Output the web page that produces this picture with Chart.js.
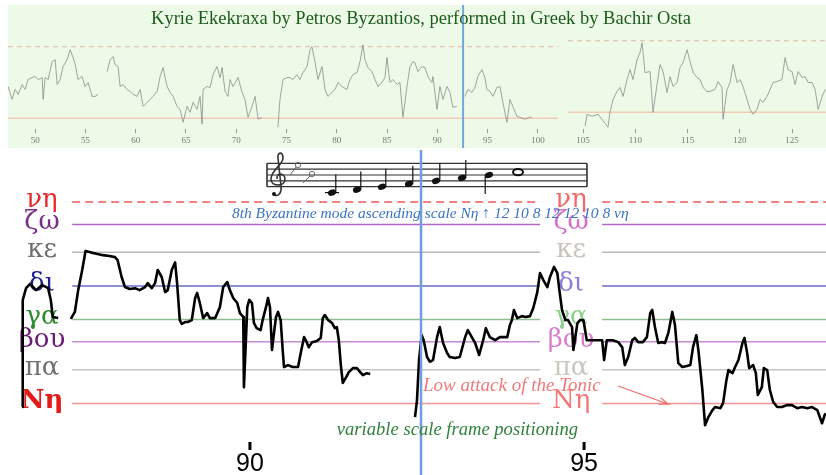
<!DOCTYPE html>
<html>
<head>
<meta charset="utf-8">
<script src="https://cdn.jsdelivr.net/npm/chart.js@4.4.1/dist/chart.umd.min.js"></script>
<style>
body { margin: 0; background: #fff; }
#wrap { position: relative; width: 826px; height: 475px; overflow: hidden; }
#topBg { position: absolute; left: 8px; top: 5px; width: 818px; height: 143px; background: #eefae8; }
#title { position: absolute; left: 8px; top: 8px; width: 826px; text-align: center;
         font: 18.5px "Liberation Serif", serif; color: #1b5c1b; }
canvas { position: absolute; }
</style>
</head>
<body>
<div id="wrap">
  <div id="topBg"></div>
  <canvas id="topLeft" width="550" height="143" style="left:8px;top:5px"></canvas>
  <canvas id="topRight" width="258" height="143" style="left:568px;top:5px"></canvas>
  <div id="title">Kyrie Ekekraxa by Petros Byzantios, performed in Greek by Bachir Osta</div>
  <canvas id="mainChart" width="826" height="325" style="left:0;top:150px"></canvas>
</div>
<script>
// Treptele modului 8 (moria de la Nη)
const levelNames = ['Nη', 'πα', 'βου', 'γα', 'δι', 'κε', 'ζω', 'νη'];
const levelMoria = [0, 12, 22, 30, 42, 54, 64, 72];
const levelLineColors = ['#f39393', '#c4c4c4', '#c78ad4', '#8cbf8c', '#6c6cc8', '#b8b8b8', '#b565c5', '#ec5a5a'];
const leftLabelColors = ['#e31b1b', '#707070', '#6b1b7b', '#2b8a2b', '#1f1f8f', '#6e6e6e', '#7b2d8b', '#e52b2b'];
const rightLabelColors = ['#f47777', '#cac8bd', '#d77fcf', '#8fd08f', '#8f7fd6', '#c9c2b9', '#d46fc8', '#f26a6a'];

// Curba de inaltime (detaliu), timp in secunde / moria
const mainTime = [
  86.59, 86.60, 86.65, 86.71, 86.80, 86.89, 86.98, 87.02, 87.05, 87.13, 87.20,
  87.32, 87.38, 87.43, 87.49, 87.54, 87.60, 87.65, 87.72, 87.80, 87.90, 87.98, 88.02, 88.08, 88.13,
  88.20, 88.28, 88.35, 88.43, 88.47, 88.53, 88.58, 88.62, 88.68, 88.73, 88.77, 88.83, 88.88, 88.91,
  88.95, 88.98, 89.03, 89.07, 89.13, 89.18, 89.21, 89.25, 89.30, 89.36, 89.40, 89.48, 89.55, 89.60,
  89.66, 89.70, 89.75, 89.81, 89.85, 89.90, 89.91, 89.94, 89.96, 89.99, 90.03, 90.06, 90.10, 90.16,
  90.19, 90.24, 90.27, 90.30, 90.33, 90.36, 90.39, 90.42, 90.46, 90.49, 90.51, 90.57, 90.64, 90.72,
  90.76, 90.81, 90.85, 90.88, 90.93, 91.00, 91.06, 91.09, 91.12, 91.17, 91.23, 91.27, 91.30, 91.33,
  91.36, 91.39, 91.44, 91.48, 91.54, 91.60, 91.65, 91.69, 91.75, 91.80, 92.10,
  92.47, 92.50, 92.53, 92.57, 92.60, 92.65, 92.69, 92.74, 92.80, 92.84, 92.89, 92.95, 92.99, 93.07,
  93.14, 93.22, 93.26, 93.32, 93.37, 93.43, 93.49, 93.53, 93.59, 93.67, 93.74, 93.85, 93.89, 93.92,
  93.95, 94.00, 94.07, 94.13, 94.19, 94.24, 94.30, 94.34, 94.39, 94.45, 94.49, 94.55, 94.60, 94.63,
  94.67, 94.72, 94.76, 94.82, 94.84, 94.90, 94.94, 94.99, 95.04, 95.12, 95.19, 95.27, 95.30, 95.34,
  95.43, 95.51, 95.57, 95.61, 95.66, 95.72, 95.76, 95.81, 95.88, 95.94, 95.99, 96.02, 96.06, 96.11,
  96.17, 96.21, 96.26, 96.32, 96.36, 96.41, 96.47, 96.54, 96.59, 96.63, 96.68, 96.71, 96.77, 96.81,
  96.86, 96.92, 96.96, 97.04, 97.08, 97.13, 97.16, 97.22, 97.26, 97.31, 97.37, 97.40, 97.44, 97.47,
  97.53, 97.57, 97.60, 97.66, 97.69, 97.74, 97.78, 97.83, 97.89, 97.96, 98.04, 98.11, 98.19, 98.26,
  98.34, 98.41, 98.49, 98.56, 98.61
];
const mainPitch = [
  -1.3, 36.9, 41.2, 42.7, 40.5, 42.3, 41.2, 37.0, 30.9, 30.5, null,
  30.2, 32.7, 40.5, 47.7, 54.5, 54.1, 53.8, 53.4, 53.0, 52.7, 52.3, 51.2, 45.2, 41.6,
  40.9, 41.2, 40.5, 41.6, 43.0, 41.2, 43.0, 47.7, 45.2, 39.8, 40.5, 47.7, 50.4, 43.0,
  29.8, 28.4, 29.1, 29.1, 29.8, 37.7, 39.5, 35.9, 30.5, 32.3, 30.5, 30.5, 34.4, 41.6,
  43.4, 40.5, 37.7, 35.9, 32.3, 30.9, 5.8, 22.6, 34.4, 37.0, 35.9, 28.7, 26.9, 26.2,
  29.8, 34.4, 37.7, 34.4, 19.1, 25.1, 30.9, 32.7, 29.8, 19.1, 13.0, 13.7, 13.0, 13.0,
  18.0, 23.7, 21.9, 20.1, 21.9, 22.3, 23.4, 30.5, 31.6, 29.8, 28.7, 26.9, 27.3, 22.6,
  13.7, 7.3, 9.4, 11.2, 12.6, 12.6, 11.2, 10.1, 10.8, 10.5, null,
  -4.9, 1.2, 15.5, 24.4, 22.6, 16.6, 14.9, 15.5, 23.7, 27.3, 21.6, 18.0, 16.6, 16.2,
  16.6, 23.7, 26.2, 23.7, 21.6, 17.3, 22.6, 26.9, 23.7, 22.6, 23.7, 23.7, 28.0, 29.8,
  33.4, 30.5, 31.2, 30.9, 31.2, 34.1, 39.8, 46.6, 44.1, 41.6, 45.2, 48.8, 46.6, 40.5,
  33.4, 29.8, 29.8, 27.3, 19.1, 28.7, 29.8, 29.8, 22.6, 22.6, 22.6, 22.6, 15.5, 22.6,
  22.6, 21.9, 20.1, 13.7, 16.6, 22.6, 23.4, 21.9, 21.9, 23.7, 32.3, 33.4, 27.3, 21.6,
  21.9, 21.6, 25.1, 32.7, 28.0, 14.4, 13.0, 13.4, 13.7, 20.1, 24.4, 19.1, 4.8, -7.8,
  -4.9, -2.4, -1.3, -1.7, 0.1, 8.3, 11.9, 10.8, 13.0, 15.5, 21.6, 23.4, 18.0, 12.6,
  13.7, 10.8, 3.0, 5.8, 12.6, 11.9, 4.8, 0.5, -1.3, -1.3, -0.6, -0.6, -1.7, -1.3,
  -1.7, -1.3, -2.4, -7.1, -3.5
];
const mainTicks = [90, 95];

// Curba completa (sus), doua cadre
const topLeftTime = [
  47.32, 47.71, 48.01, 48.31, 48.71, 49.01, 49.30, 49.70, 50.00, 50.30, 50.70, 50.80, 50.99, 51.29,
  51.69, 51.99, 52.19, 52.49, 52.78, 53.18, 53.48, 53.78, 53.98, 54.27, 54.67, 54.97, 55.27, 55.67,
  55.96, 56.26, 56.70, 57.16, 57.46, 57.75, 57.95, 58.25, 58.45, 58.75, 59.14, 59.44, 59.74, 60.14,
  60.44, 60.74, 61.13, 61.43, 61.73, 62.13, 62.43, 62.72, 63.12, 63.42, 63.72, 64.11, 64.41, 64.71,
  65.11, 65.41, 65.71, 66.10, 66.40, 66.60, 66.70, 67.10, 67.40, 67.69, 68.09, 68.39, 68.59, 68.89,
  69.18, 69.38, 69.68, 70.18, 70.58, 70.87, 71.17, 71.57, 71.87, 72.17, 72.56, 73.40, 74.15, 74.35,
  74.65, 75.05, 75.35, 75.65, 76.04, 76.34, 76.64, 77.04, 77.34, 77.53, 77.83, 78.13, 78.53, 78.83,
  79.12, 79.52, 79.82, 80.12, 80.52, 81.01, 81.31, 81.61, 82.01, 82.31, 82.60, 82.80, 83.10, 83.50,
  83.80, 84.09, 84.49, 84.79, 84.99, 85.29, 85.59, 85.98, 86.28, 86.58, 86.98, 87.28, 87.57, 87.77,
  88.07, 88.47, 88.77, 89.06, 89.46, 89.56, 89.96, 90.26, 90.56, 90.95, 91.25, 91.55, 91.95, 92.30,
  92.74, 93.04, 93.44, 93.74, 94.03, 94.43, 94.73, 94.93, 95.23, 95.53, 95.92, 96.22, 96.52, 96.92,
  97.22, 97.51, 97.91, 98.21, 98.71, 99.20, 99.40
];
const topLeftPitch = [
  32, 19, 29, 24, 34, 29, 39, 41, 42, 39, 41, 19, 41, 39,
  57, 59, 34, 39, 52, 59, 69, 61, 54, 39, 42, 32, 36, 22,
  22, 24, null, 47, 59, 62, 54, 52, 32, 34, 29, 27, 24, 22,
  29, 12, 16, 19, 22, 27, 42, 51, 32, 26, 22, 12, 9, -4,
  12, 6, 16, 9, 22, -6, 29, 32, 31, 44, 52, 41, 51, 27,
  22, 39, 32, 41, 26, 19, 1, 12, 22, -1, 1, null, -9, 19,
  39, 41, 41, 39, 44, 39, 46, 52, 69, 72, 57, 39, 52, 29,
  22, 26, 29, 36, 32, 29, 39, 44, 46, 57, 74, 59, 51, 47,
  39, 32, 36, 41, 61, 36, 39, 34, 36, 1, 32, 52, 57, 56,
  47, 52, 51, 42, 36, 42, 9, 32, 19, 32, 26, 11, 12, null,
  22, 29, 26, 31, 42, 49, 41, 29, 27, 22, 31, 32, 16, -4,
  19, 12, 2, 1, -1, 1, 1
];
const topRightTime = [
  105.19, 105.38, 105.86, 106.44, 107.39, 107.58, 107.87, 108.25, 108.54, 108.83, 109.21, 109.50,
  109.78, 110.17, 110.45, 110.65, 110.93, 111.41, 111.70, 112.08, 112.37, 112.66, 113.04, 113.33,
  113.61, 114.00, 114.28, 114.57, 114.95, 115.24, 115.53, 115.91, 116.20, 116.48, 116.87, 117.15,
  117.63, 117.92, 118.30, 118.40, 118.78, 119.07, 119.36, 119.74, 120.02, 120.31, 120.69, 120.98,
  121.27, 121.65, 121.94, 122.23, 122.61, 122.90, 123.18, 123.57, 124.04, 124.33, 124.62, 125.00,
  125.29, 125.58, 125.96, 126.25, 126.54, 126.92, 127.21, 127.50, 127.88, 128.17
];
const topRightPitch = [
  -14, -2, -4, -2, -15, 0, 13, 21, 25, 16, 33, 43,
  33, 53, 60, 70, 40, 41, 0, 28, 48, 41, 20, 36,
  26, 30, 45, 50, 63, 51, 40, 35, 33, 25, 21, 21,
  23, 31, 25, -7, 23, 30, 48, 30, 33, 26, 13, 3,
  -2, 3, 13, 10, 16, 23, 30, 31, 33, 55, 43, 41,
  28, 41, 35, 36, 30, 30, 23, 3, 16, 23
];
const topRefLevels = [0, 72];
const markerTime = 92.56;

function toPoints(times, values) {
    return times.map((t, i) => ({ x: t, y: values[i] }));
}

// ---------- sus: curba completa ----------
const topMarker = {
    id: 'topMarker',
    afterDatasetsDraw(chart) {
        const { ctx, scales: { x } } = chart;
        if (markerTime < x.min || markerTime > x.max) return;
        const px = x.getPixelForValue(markerTime);
        ctx.save();
        ctx.strokeStyle = '#73a6de';
        ctx.lineWidth = 2;
        ctx.beginPath();
        ctx.moveTo(px, 0);
        ctx.lineTo(px, chart.height);
        ctx.stroke();
        ctx.restore();
    }
};

function makeTopChart(canvasId, times, values, xMin, xMax, yMin, yMax) {
    const ctx = document.getElementById(canvasId).getContext('2d');
    return new Chart(ctx, {
        type: 'line',
        data: {
            datasets: [{
                data: toPoints(times, values),
                borderColor: '#8c8c8c',
                borderWidth: 0.8,
                pointRadius: 0,
                spanGaps: false
            }, {
                data: [{ x: xMin, y: topRefLevels[1] }, { x: xMax, y: topRefLevels[1] }],
                borderColor: '#e4b4a4',
                borderWidth: 1,
                borderDash: [5, 4],
                pointRadius: 0
            }, {
                data: [{ x: xMin, y: topRefLevels[0] }, { x: xMax, y: topRefLevels[0] }],
                borderColor: '#f1cbb6',
                borderWidth: 1.5,
                pointRadius: 0
            }]
        },
        options: {
            responsive: false,
            animation: false,
            layout: { padding: 0 },
            plugins: { legend: { display: false }, tooltip: { enabled: false } },
            scales: {
                x: {
                    type: 'linear', min: xMin, max: xMax,
                    border: { display: false },
                    grid: { drawOnChartArea: false, tickLength: 4, color: '#9a9a9a' },
                    ticks: { stepSize: 5, includeBounds: false, color: '#777',
                             font: { family: 'Liberation Serif', size: 9 }, padding: 2 }
                },
                y: { display: false, min: yMin, max: yMax }
            }
        },
        plugins: [topMarker]
    });
}

makeTopChart('topLeft', topLeftTime, topLeftPitch, 47.3, 102.0, -11, 114);
makeTopChart('topRight', topRightTime, topRightPitch, 103.56, 128.25, -17, 108);

// ---------- jos: detaliu cu scara ----------
const lineStart = 87.34, gapFrom = 94.34, gapTo = 95.27, mainMin = 86.26, mainMax = 98.62;

const levelDatasets = levelNames.map((name, i) => ({
    label: name,
    data: [
        { x: lineStart, y: levelMoria[i] }, { x: gapFrom, y: levelMoria[i] },
        { x: (gapFrom + gapTo) / 2, y: null },
        { x: gapTo, y: levelMoria[i] }, { x: mainMax, y: levelMoria[i] }
    ],
    borderColor: levelLineColors[i],
    borderWidth: 1.5,
    borderDash: name === 'νη' ? [8, 5] : [],
    pointRadius: 0,
    spanGaps: false,
    order: 2
}));

const annotations = [
    { text: '8th Byzantine mode ascending scale Nη ↑ 12 10 8 12 12 10 8 νη', x: 89.73, y: 67.7,
      font: 'italic 15.5px "Liberation Serif"', color: '#3b73c4' },
    { text: 'Low attack of the Tonic', x: 92.59, y: 6.2,
      font: 'italic 19px "Liberation Serif"', color: '#f07a7a' },
    { text: 'variable scale frame positioning', x: 91.30, y: -9.5,
      font: 'italic 18.6px "Liberation Serif"', color: '#2f823c' }
];

function drawStaff(ctx) {
    ctx.save();
    ctx.strokeStyle = '#333';
    ctx.fillStyle = '#111';
    ctx.lineWidth = 1.2;
    const top = 13.3, gap = 5.85;
    for (let k = 0; k < 5; k++) {
        ctx.beginPath();
        ctx.moveTo(267, top + k * gap);
        ctx.lineTo(587, top + k * gap);
        ctx.stroke();
    }
    ctx.lineWidth = 1.6;
    [267, 587].forEach(bx => {
        ctx.beginPath();
        ctx.moveTo(bx, top);
        ctx.lineTo(bx, top + 4 * gap);
        ctx.stroke();
    });
    // cheia sol
    ctx.lineWidth = 1.6;
    ctx.beginPath();
    ctx.moveTo(274, 45);
    ctx.bezierCurveTo(279, 47, 282, 42, 281, 36);
    ctx.lineTo(278, 8);
    ctx.bezierCurveTo(277, 2, 283, 1, 283, 8);
    ctx.bezierCurveTo(283, 15, 271, 20, 271, 29);
    ctx.bezierCurveTo(271, 37, 285, 37, 285, 29);
    ctx.bezierCurveTo(285, 23, 276, 22, 277, 29);
    ctx.stroke();
    ctx.beginPath();
    ctx.arc(274, 44, 2, 0, Math.PI * 2);
    ctx.fill();
    // note mici
    ctx.lineWidth = 1;
    ctx.strokeStyle = '#666';
    [[298, 15, 290, 25], [312, 24, 303, 33]].forEach(([nx, ny, sx, sy]) => {
        ctx.beginPath();
        ctx.arc(nx, ny, 2.6, 0, Math.PI * 2);
        ctx.stroke();
        ctx.beginPath();
        ctx.moveTo(sx, sy);
        ctx.lineTo(nx - 2, ny + 2);
        ctx.stroke();
    });
    // patrimi
    ctx.strokeStyle = '#111';
    const quarters = [[332, 42.6, 1], [357, 39.6, 1], [382, 36.7, 1], [409, 33.8, 1],
                      [436, 30.9, 1], [462, 27.9, 1], [489, 25.0, -1]];
    quarters.forEach(([nx, ny, dir]) => {
        ctx.beginPath();
        ctx.ellipse(nx, ny, 4.2, 3, -0.35, 0, Math.PI * 2);
        ctx.fill();
        ctx.lineWidth = 1.2;
        ctx.beginPath();
        if (dir > 0) { ctx.moveTo(nx + 3.8, ny); ctx.lineTo(nx + 3.8, ny - 18); }
        else { ctx.moveTo(nx - 3.8, ny); ctx.lineTo(nx - 3.8, ny + 19); }
        ctx.stroke();
    });
    ctx.beginPath();
    ctx.moveTo(325, 42.6);
    ctx.lineTo(339, 42.6);
    ctx.stroke();
    // nota intreaga
    ctx.lineWidth = 2;
    ctx.beginPath();
    ctx.ellipse(518, 22.1, 5, 3.2, 0, 0, Math.PI * 2);
    ctx.stroke();
    ctx.restore();
}

const mainDecor = {
    id: 'mainDecor',
    beforeDatasetsDraw(chart) {
        const { ctx, scales: { x, y } } = chart;
        drawStaff(ctx);
        ctx.save();
        ctx.textBaseline = 'middle';
        ctx.textAlign = 'center';
        const rightX = x.getPixelForValue((gapFrom + gapTo) / 2);
        levelNames.forEach((name, i) => {
            const py = y.getPixelForValue(levelMoria[i]);
            ctx.font = (name === 'Nη' ? 'bold ' : '') + '26px "DejaVu Serif"';
            ctx.fillStyle = leftLabelColors[i];
            ctx.fillText(name, 42, py - 2);
            ctx.font = '26px "DejaVu Serif"';
            ctx.fillStyle = rightLabelColors[i];
            ctx.fillText(name, rightX, py - 2);
        });
        ctx.restore();
    },
    afterDatasetsDraw(chart) {
        const { ctx, scales: { x, y } } = chart;
        ctx.save();
        // linia albastra (pozitia cadrului)
        const mx = x.getPixelForValue(markerTime);
        ctx.strokeStyle = '#6d9fe0';
        ctx.lineWidth = 2.5;
        ctx.beginPath();
        ctx.moveTo(mx, 0);
        ctx.lineTo(mx, chart.height);
        ctx.stroke();
        // texte
        ctx.textAlign = 'left';
        ctx.textBaseline = 'middle';
        annotations.forEach(a => {
            ctx.font = a.font;
            ctx.fillStyle = a.color;
            ctx.fillText(a.text, x.getPixelForValue(a.x), y.getPixelForValue(a.y));
        });
        // sageata
        const ax0 = x.getPixelForValue(95.51), ay0 = y.getPixelForValue(6.2);
        const ax1 = x.getPixelForValue(96.26), ay1 = y.getPixelForValue(-0.3);
        const ang = Math.atan2(ay1 - ay0, ax1 - ax0);
        ctx.strokeStyle = '#f07070';
        ctx.lineWidth = 1.2;
        ctx.beginPath();
        ctx.moveTo(ax0, ay0);
        ctx.lineTo(ax1, ay1);
        ctx.lineTo(ax1 - 10 * Math.cos(ang - 0.35), ay1 - 10 * Math.sin(ang - 0.35));
        ctx.moveTo(ax1, ay1);
        ctx.lineTo(ax1 - 10 * Math.cos(ang + 0.35), ay1 - 10 * Math.sin(ang + 0.35));
        ctx.stroke();
        // etichete axa x
        ctx.fillStyle = '#000';
        ctx.textAlign = 'center';
        ctx.textBaseline = 'alphabetic';
        ctx.font = '25px "Liberation Sans Narrow", "Liberation Sans", sans-serif';
        mainTicks.forEach(t => {
            const px = x.getPixelForValue(t);
            ctx.fillRect(px - 1.5, 292, 3, 8);
            ctx.fillText(String(t), px, 321);
        });
        ctx.restore();
    }
};

const ctxMain = document.getElementById('mainChart').getContext('2d');
new Chart(ctxMain, {
    type: 'line',
    data: {
        datasets: [{
            label: 'pitch',
            data: toPoints(mainTime, mainPitch),
            borderColor: '#000',
            borderWidth: 2.6,
            pointRadius: 0,
            spanGaps: false,
            borderJoinStyle: 'round',
            order: 1
        }, ...levelDatasets]
    },
    options: {
        responsive: false,
        animation: false,
        layout: { padding: 0 },
        plugins: { legend: { display: false }, tooltip: { enabled: false } },
        scales: {
            x: { type: 'linear', display: false, min: mainMin, max: mainMax },
            y: { display: false, min: -25.6, max: 90.6 }
        }
    },
    plugins: [mainDecor]
});
</script>
</body>
</html>
